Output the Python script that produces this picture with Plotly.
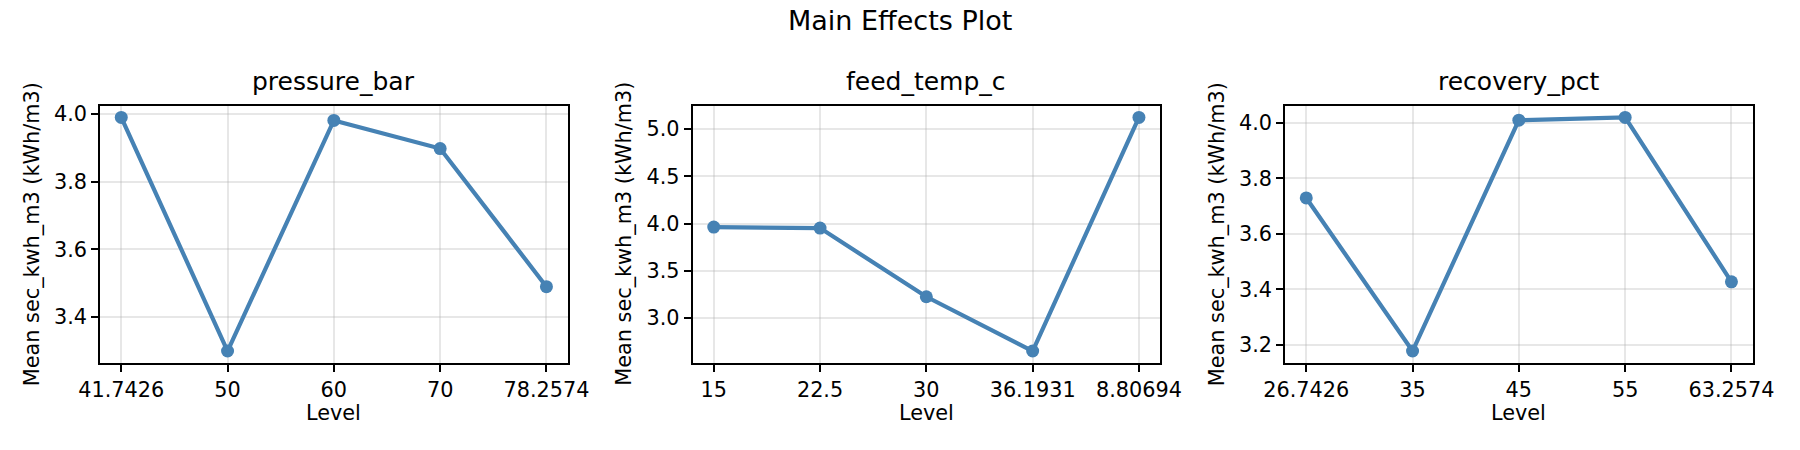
import plotly.graph_objects as go

# ---- data ----
factors = ["pressure_bar", "feed_temp_c", "recovery_pct"]
pressure_levels = ["41.7426", "50", "60", "70", "78.2574"]
pressure_means = [3.990, 3.300, 3.981, 3.898, 3.490]
feed_levels = ["15", "22.5", "30", "36.1931", "8.80694"]
feed_means = [3.963, 3.952, 3.226, 2.652, 5.123]
recovery_levels = ["26.7426", "35", "45", "55", "63.2574"]
recovery_means = [3.729, 3.178, 4.009, 4.019, 3.427]
y_dticks = [0.2, 0.5, 0.2]

title_text = "Main Effects Plot"
x_label = "Level"
y_label = "Mean sec_kwh_m3 (kWh/m3)"

W, H = 1800, 450
FONT = "DejaVu Sans"
COLOR = "#4682B4"

# panel geometry in pixels
panel_left = [100.0, 692.5, 1285.0]
panel_w = 467.7
top_px, bot_px = 105.7, 362.7

levels = [pressure_levels, feed_levels, recovery_levels]
means = [pressure_means, feed_means, recovery_means]

fig = go.Figure()
annotations = []
for i in range(3):
    ax = "" if i == 0 else str(i + 1)
    fig.add_trace(go.Scatter(
        x=levels[i], y=means[i], mode="lines+markers",
        line=dict(color=COLOR, width=4.2),
        marker=dict(color=COLOR, size=13),
        xaxis="x" + ax, yaxis="y" + ax, showlegend=False,
    ))
    lo, hi = min(means[i]), max(means[i])
    pad = 0.05 * (hi - lo)
    x0 = panel_left[i] / W
    x1 = (panel_left[i] + panel_w) / W
    common = dict(
        showline=True, linecolor="black", linewidth=1.7, mirror=True,
        ticks="outside", ticklen=7, tickwidth=1.7, tickcolor="black",
        showgrid=True, gridcolor="rgba(176,176,176,0.3)", gridwidth=1.7,
        zeroline=False, automargin=False,
        tickfont=dict(family=FONT, size=20.8, color="black"),
    )
    fig.update_layout(**{
        "xaxis" + ax: dict(
            domain=[x0, x1], anchor="y" + ax, type="category",
            range=[-0.2, 4.2], **common),
        "yaxis" + ax: dict(
            domain=[1 - bot_px / H, 1 - top_px / H], anchor="x" + ax,
            range=[lo - pad, hi + pad], dtick=y_dticks[i], tick0=0,
            tickformat=".1f", **common),
    })
    cx = (panel_left[i] + panel_w / 2) / W
    annotations.append(dict(
        text=factors[i], x=cx, y=1 - 98 / H, xref="paper", yref="paper",
        xanchor="center", yanchor="bottom", showarrow=False,
        font=dict(family=FONT, size=25, color="black")))
    annotations.append(dict(
        text=x_label, x=cx, y=1 - 399 / H, xref="paper", yref="paper",
        xanchor="center", yanchor="top", showarrow=False,
        font=dict(family=FONT, size=20.8, color="black")))
    annotations.append(dict(
        text=y_label, x=(panel_left[i] - 68) / W, y=1 - (top_px + bot_px) / 2 / H,
        xref="paper", yref="paper", xanchor="center", yanchor="middle",
        textangle=-90, showarrow=False,
        font=dict(family=FONT, size=20.8, color="black")))

annotations.append(dict(
    text=title_text, x=0.5, y=1 - 3 / H, xref="paper", yref="paper",
    xanchor="center", yanchor="top", showarrow=False,
    font=dict(family=FONT, size=27, color="black")))

fig.update_layout(
    width=W, height=H,
    margin=dict(l=0, r=0, t=0, b=0, pad=0, autoexpand=False),
    paper_bgcolor="white", plot_bgcolor="white",
    annotations=annotations,
    font=dict(family=FONT, color="black"),
    hovermode=False,
)

fig.write_html(
    "out.html",
    config={"displayModeBar": False},
    post_script="document.body.style.margin='0';document.body.style.overflow='hidden';",
)
